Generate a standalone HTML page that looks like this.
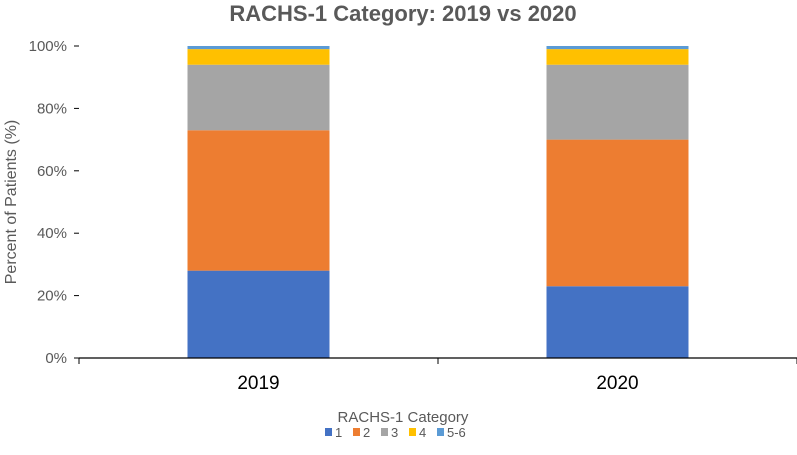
<!DOCTYPE html>
<html><head><meta charset="utf-8"><style>
body{margin:0;background:#fff;font-family:"Liberation Sans",Arial,sans-serif}
svg text{font-family:"Liberation Sans",Arial,sans-serif}
</style></head><body>
<svg id="c" width="797" height="450">
<text x="403" y="21" text-anchor="middle" font-size="22" font-weight="bold" fill="#595959">RACHS-1 Category: 2019 vs 2020</text>
<text transform="translate(16,202) rotate(-90)" text-anchor="middle" font-size="16" fill="#595959">Percent of Patients (%)</text>
<text x="403" y="422" text-anchor="middle" font-size="15" fill="#595959">RACHS-1 Category</text>
<g id="plot"></g>
</svg>
<script>
const categories=["2019","2020"];
const seriesNames=["1","2","3","4","5-6"];
const colors=["#4472C4","#ED7D31","#A5A5A5","#FFC000","#5B9BD5"];
const s1=[28,23];
const s2=[45,47];
const s3=[21,24];
const s4=[5,5];
const s56=[1,1];
const yTicks=[0,20,40,60,80,100];
const series=[s1,s2,s3,s4,s56];
const NS="http://www.w3.org/2000/svg";
const g=document.getElementById('plot');
const x0=79,x1=797,y0=358,y1=46;
const y=v=>y0-(v/100)*(y0-y1);
const band=(x1-x0)/categories.length;
const cx=i=>x0+band*(i+0.5);
const bw=142;
function mk(t,a){const e=document.createElementNS(NS,t);for(const k in a)e.setAttribute(k,a[k]);g.appendChild(e);return e;}
yTicks.forEach(t=>{
 const tk=mk('line',{x1:x0-5,x2:x0,y1:y(t),y2:y(t),stroke:'#000'});
 
 
 const tx=mk('text',{x:x0-12,y:y(t)+5,'text-anchor':'end','font-size':15,fill:'#595959'});
 tx.textContent=t+'%';
 
 
});
categories.forEach((c,i)=>{
 let cum=0;
 series.forEach((s,j)=>{
  const r=mk('rect',{x:cx(i)-bw/2,y:y(cum+s[i]),width:bw,height:y(cum)-y(cum+s[i]),fill:colors[j]});
  
  
  cum+=s[i];
 });
 const l=mk('text',{x:cx(i),y:389,'text-anchor':'middle','font-size':19,fill:'#000'});
 l.textContent=c;
 
 
});
const ax=mk('line',{x1:x0,x2:x1,y1:y0,y2:y0,stroke:'#000','stroke-width':1.2});


for(let i=0;i<=categories.length;i++){
 const t=mk('line',{x1:x0+band*i,x2:x0+band*i,y1:y0,y2:y0+6,stroke:'#000'});
 
 
}
const lx=[325,353,381,409,437];
seriesNames.forEach((n,j)=>{
 const r=mk('rect',{x:lx[j],y:428,width:7,height:8,fill:colors[j]});
 
 
 const t=mk('text',{x:lx[j]+10,y:437,'font-size':13,fill:'#595959'});
 t.textContent=n;
 
 
});
</script>
</body></html>
